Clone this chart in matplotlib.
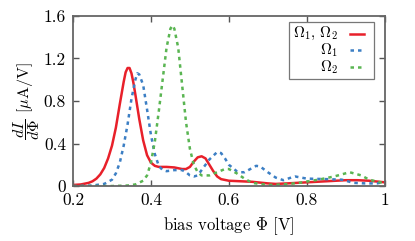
import matplotlib
matplotlib.use("Agg")
import matplotlib.pyplot as plt
from matplotlib import patches
from matplotlib.lines import Line2D

plt.rcParams["mathtext.fontset"] = "cm"
plt.rcParams["font.family"] = "cmr10"
plt.rcParams["axes.formatter.use_mathtext"] = True
plt.rcParams["axes.unicode_minus"] = False

# Omega_1, Omega_2 (solid red)
x_both = [0.20, 0.22, 0.24, 0.25, 0.26, 0.27, 0.28, 0.29, 0.30, 0.31, 0.32,
          0.33, 0.335, 0.34, 0.345, 0.35, 0.355, 0.36, 0.37, 0.38, 0.39,
          0.40, 0.41, 0.42, 0.44, 0.46, 0.48, 0.49, 0.50, 0.51, 0.52, 0.53,
          0.54, 0.55, 0.56, 0.57, 0.58, 0.60, 0.63, 0.66, 0.70, 0.72, 0.75,
          0.80, 0.85, 0.90, 0.93, 0.96, 1.00]
y_both = [0.01, 0.015, 0.03, 0.045, 0.07, 0.11, 0.17, 0.26, 0.38, 0.55, 0.77,
          0.98, 1.07, 1.11, 1.11, 1.06, 0.97, 0.86, 0.63, 0.43, 0.29,
          0.22, 0.19, 0.18, 0.18, 0.175, 0.16, 0.16, 0.18, 0.23, 0.27, 0.28,
          0.26, 0.20, 0.14, 0.09, 0.065, 0.05, 0.045, 0.04, 0.025, 0.02, 0.025,
          0.035, 0.045, 0.055, 0.055, 0.05, 0.035]

# Omega_1 (dotted blue)
x_om1 = [0.20, 0.25, 0.28, 0.30, 0.31, 0.32, 0.33, 0.34, 0.35, 0.36, 0.365,
         0.37, 0.38, 0.39, 0.40, 0.41, 0.42, 0.43, 0.44, 0.46, 0.48, 0.49,
         0.50, 0.51, 0.52, 0.53, 0.55, 0.57, 0.58, 0.59, 0.60, 0.62, 0.63,
         0.64, 0.66, 0.67, 0.68, 0.70, 0.72, 0.74, 0.76, 0.77, 0.80, 0.85,
         0.89, 0.92, 0.95, 0.98, 1.00]
y_om1 = [0.0, 0.005, 0.02, 0.06, 0.12, 0.22, 0.38, 0.58, 0.82, 1.00, 1.06,
         1.05, 0.95, 0.72, 0.48, 0.30, 0.19, 0.15, 0.14, 0.15, 0.15, 0.13,
         0.10, 0.09, 0.10, 0.15, 0.25, 0.32, 0.31, 0.26, 0.20, 0.14, 0.13,
         0.13, 0.17, 0.19, 0.185, 0.13, 0.08, 0.055, 0.08, 0.09, 0.07, 0.065,
         0.06, 0.03, 0.025, 0.025, 0.04]

# Omega_2 (dotted green)
x_om2 = [0.20, 0.30, 0.34, 0.36, 0.38, 0.39, 0.40, 0.41, 0.42, 0.43, 0.44,
         0.45, 0.455, 0.46, 0.47, 0.48, 0.49, 0.50, 0.51, 0.52, 0.53, 0.55,
         0.57, 0.59, 0.60, 0.62, 0.64, 0.66, 0.70, 0.74, 0.78, 0.83, 0.87,
         0.91, 0.94, 0.96, 1.00]
y_om2 = [0.0, 0.0, 0.005, 0.015, 0.05, 0.10, 0.22, 0.42, 0.70, 1.00, 1.30,
         1.48, 1.51, 1.48, 1.30, 0.95, 0.60, 0.35, 0.20, 0.13, 0.10, 0.10,
         0.13, 0.16, 0.16, 0.12, 0.07, 0.03, 0.01, 0.015, 0.03, 0.06, 0.09,
         0.13, 0.10, 0.06, 0.025]

labels = [r"$\Omega_1,\,\Omega_2$", r"$\Omega_1$", r"$\Omega_2$"]
colors = ["#e8202a", "#3c7fc4", "#5ab552"]

xticks = [0.2, 0.4, 0.6, 0.8, 1.0]
xticklabels = ["0.2", "0.4", "0.6", "0.8", "1"]
yticks = [0, 0.4, 0.8, 1.2, 1.6]
yticklabels = ["0", "0.4", "0.8", "1.2", "1.6"]

fig = plt.figure(figsize=(4.15, 2.41), dpi=100)
ax = fig.add_axes([0.176, 0.228, 0.751, 0.706])

ax.plot(x_both, y_both, color=colors[0], lw=1.8, solid_joinstyle="round")
ax.plot(x_om1, y_om1, color=colors[1], lw=1.8, dashes=(1.4, 1.6))
ax.plot(x_om2, y_om2, color=colors[2], lw=1.8, dashes=(1.4, 1.6))

ax.set_xlim(0.2, 1.0)
ax.set_ylim(0, 1.6)
ax.set_xticks(xticks)
ax.set_xticklabels(xticklabels)
ax.set_yticks(yticks)
ax.set_yticklabels(yticklabels)
ax.tick_params(direction="in", top=True, right=True, length=4.5, width=1.0,
               color="#555555", labelsize=12.5, pad=5)
for s in ax.spines.values():
    s.set_color("#666666")
    s.set_linewidth(1.3)

ax.set_xlabel(r"bias voltage $\Phi$ [V]", fontsize=12, labelpad=5)
ax.set_ylabel(r"$\dfrac{dI}{d\Phi}$ [$\mu$A/V]", fontsize=11.5, labelpad=1)

# gnuplot-like legend: text right-aligned, sample on the right
box = patches.Rectangle((0.693, 0.63), 0.273, 0.335, transform=ax.transAxes,
                        facecolor="white", edgecolor="#777777", lw=0.9, zorder=5)
ax.add_patch(box)
row_y = [0.895, 0.797, 0.699]
styles = [dict(lw=1.8), dict(lw=1.8, dashes=(1.4, 1.6)), dict(lw=1.8, dashes=(1.4, 1.6))]
for lab, c, yy, st in zip(labels, colors, row_y, styles):
    ax.text(0.851, yy, lab, transform=ax.transAxes, ha="right", va="center",
            fontsize=10.8, zorder=6)
    ax.add_line(Line2D([0.889, 0.932], [yy, yy], transform=ax.transAxes,
                       color=c, zorder=6, **st))

fig.savefig("out.png", dpi=100)
